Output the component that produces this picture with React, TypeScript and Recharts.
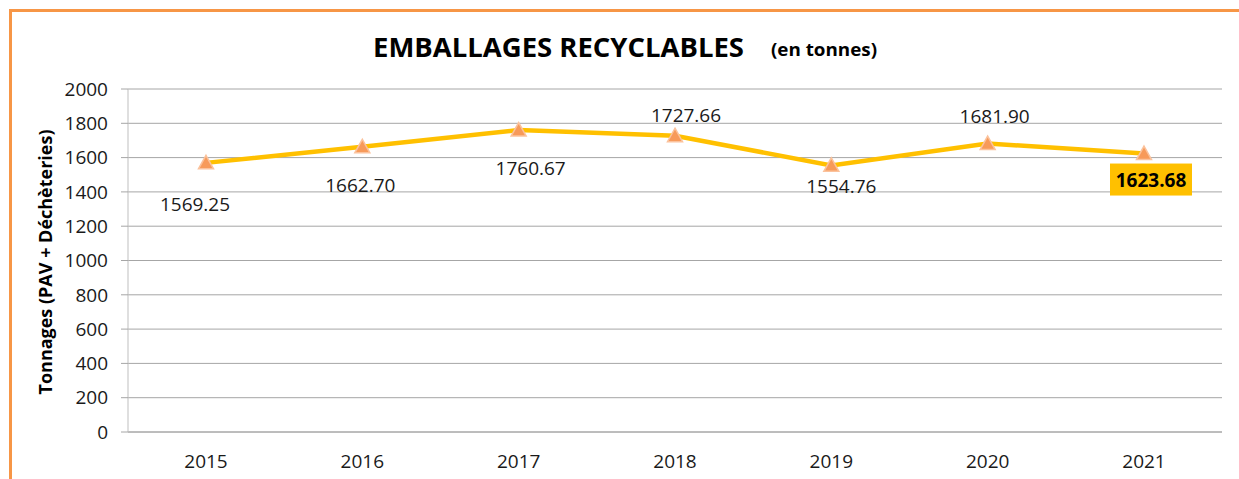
import React from 'react';
import { LineChart, Line, XAxis, YAxis, CartesianGrid, LabelList, Customized } from 'recharts';

const YEARS = ['2015', '2016', '2017', '2018', '2019', '2020', '2021'];
const TONNAGES = [1569.25, 1662.7, 1760.67, 1727.66, 1554.76, 1681.9, 1623.68];
const Y_TICKS = [0, 200, 400, 600, 800, 1000, 1200, 1400, 1600, 1800, 2000];
const TITLE = 'EMBALLAGES RECYCLABLES';
const SUBTITLE = '(en tonnes)';
const Y_TITLE = 'Tonnages (PAV + Déchèteries)';

// label placement relative to each point (style only)
const LABEL_OFFSETS: [number, number][] = [
  [-11, 41],
  [-2, 38],
  [12, 38],
  [11, -21],
  [10, 21],
  [7, -28],
  [7, 26],
];
const HIGHLIGHT_INDEX = 6;

const data = YEARS.map((year, i) => ({ year, value: TONNAGES[i] }));

const FONT = "'Open Sans', 'Liberation Sans', sans-serif";

const renderLabel = (props: any) => {
  const { x, y, value, index } = props;
  const [dx, dy] = LABEL_OFFSETS[index] || [0, -20];
  const cx = x + dx;
  const cy = y + dy;
  const txt = Number(value).toFixed(2);
  if (index === HIGHLIGHT_INDEX) {
    return (
      <g>
        <rect x={cx - 41} y={cy - 16} width={82} height={32} fill="#FFC000" />
        <text x={cx} y={cy + 7} textAnchor="middle" fontFamily={FONT} fontSize={19} fontWeight={700} fill="#000">
          {txt}
        </text>
      </g>
    );
  }
  return (
    <text x={cx} y={cy + 7} textAnchor="middle" fontFamily={FONT} fontSize={19} fill="#1a1a1a">
      {txt}
    </text>
  );
};

const renderDot = (props: any) => {
  const { cx, cy, index } = props;
  if (cx == null || cy == null) return <g key={`d${index}`} />;
  const d = `M${cx},${cy - 7.5} L${cx + 7.5},${cy + 6} L${cx - 7.5},${cy + 6} Z`;
  return <path key={`d${index}`} d={d} fill="#F79A5A" stroke="#FBC29C" strokeWidth={1.5} />;
};

const Titles = () => (
  <g>
    <text x={373} y={57} fontFamily={FONT} fontSize={27} fontWeight={700} fill="#000" textLength={371} lengthAdjust="spacingAndGlyphs">
      {TITLE}
    </text>
    <text x={771} y={56} fontFamily={FONT} fontSize={18} fontWeight={700} fill="#000" textLength={106} lengthAdjust="spacingAndGlyphs">
      {SUBTITLE}
    </text>
    <text
      x={52}
      y={262}
      transform="rotate(-90 52 262)"
      textAnchor="middle"
      fontFamily={FONT}
      fontSize={18}
      fontWeight={700}
      fill="#000"
      textLength={265}
      lengthAdjust="spacingAndGlyphs"
    >
      {Y_TITLE}
    </text>
  </g>
);

export default function App() {
  return (
    <div style={{ position: 'absolute', left: 0, top: 0, width: 1239, height: 479, overflow: 'hidden', background: '#fff' }}>
      <div
        style={{
          position: 'absolute',
          left: 9,
          top: 9,
          width: 1400,
          height: 700,
          border: '3px solid #F79646',
          boxSizing: 'border-box',
        }}
      />
      <div style={{ position: 'absolute', left: 0, top: 0 }}>
        <LineChart width={1239} height={479} data={data} margin={{ top: 89, right: 17, bottom: 17, left: 68 }}>
          <CartesianGrid vertical={false} stroke="#A6A6A6" strokeWidth={1} />
          <XAxis
            dataKey="year"
            padding={{ left: 78, right: 78 }}
            axisLine={{ stroke: '#A6A6A6' }}
            tickLine={false}
            tickSize={0}
            tickMargin={23}
            height={30}
            tick={{ fontFamily: FONT, fontSize: 19, fill: '#1a1a1a' }}
          />
          <YAxis
            domain={[0, 2000]}
            ticks={Y_TICKS}
            width={60}
            axisLine={{ stroke: '#BFBFBF' }}
            tickLine={{ stroke: '#A6A6A6' }}
            tickSize={7}
            tickMargin={13}
            tick={{ fontFamily: FONT, fontSize: 19, fill: '#1a1a1a' }}
          />
          <Line
            type="linear"
            dataKey="value"
            stroke="#FFC000"
            strokeWidth={4.5}
            dot={renderDot}
            activeDot={false}
            isAnimationActive={false}
          >
            <LabelList dataKey="value" content={renderLabel} />
          </Line>
          <Customized component={Titles} />
        </LineChart>
      </div>
    </div>
  );
}
